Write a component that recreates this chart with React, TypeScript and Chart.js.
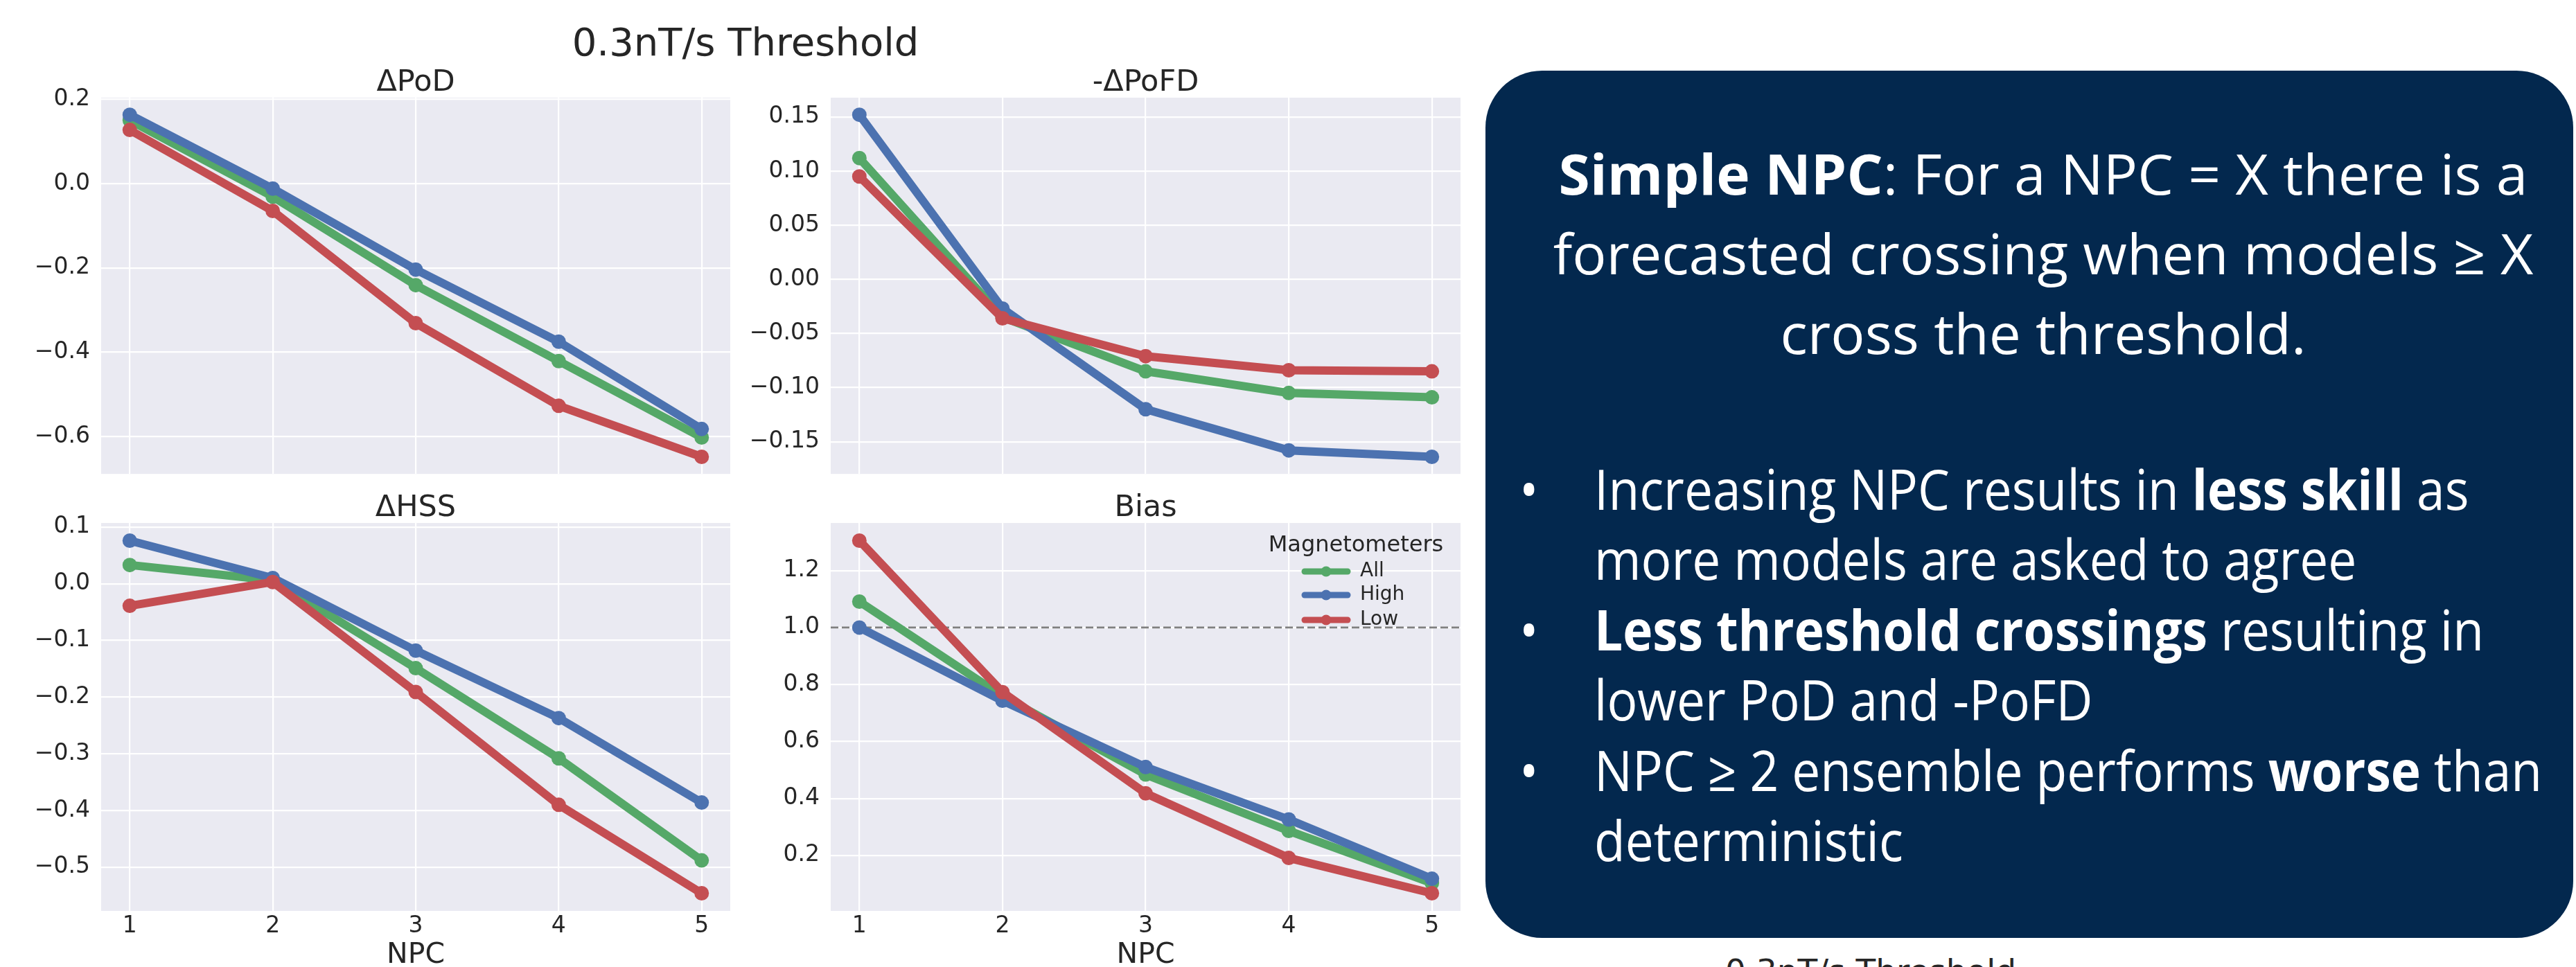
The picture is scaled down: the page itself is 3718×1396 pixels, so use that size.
import React, { useEffect, useLayoutEffect, useRef, useState } from 'react';
import { Chart, registerables } from 'chart.js';

Chart.register(...registerables);

// ---------------- data ----------------
const npc = [1, 2, 3, 4, 5];
const npcLabels = ['1', '2', '3', '4', '5'];
const seriesNames = ['All', 'High', 'Low'];
const seriesColors = ['#55A868', '#4C72B0', '#C44E52'];

const podAll = [0.150, -0.031, -0.241, -0.421, -0.602];
const podHigh = [0.163, -0.012, -0.204, -0.375, -0.582];
const podLow = [0.127, -0.065, -0.331, -0.527, -0.648];

const pofdAll = [0.112, -0.035, -0.085, -0.105, -0.109];
const pofdHigh = [0.152, -0.027, -0.120, -0.158, -0.164];
const pofdLow = [0.095, -0.036, -0.071, -0.084, -0.085];

const hssAll = [0.033, 0.006, -0.149, -0.308, -0.488];
const hssHigh = [0.076, 0.010, -0.118, -0.237, -0.386];
const hssLow = [-0.039, 0.003, -0.191, -0.390, -0.546];

const biasAll = [1.091, 0.759, 0.484, 0.286, 0.103];
const biasHigh = [1.000, 0.743, 0.510, 0.326, 0.118];
const biasLow = [1.305, 0.773, 0.418, 0.191, 0.067];

const podTicks = [-0.6, -0.4, -0.2, 0.0, 0.2];
const podTickLabels = ['\u22120.6', '\u22120.4', '\u22120.2', '0.0', '0.2'];
const pofdTicks = [-0.15, -0.10, -0.05, 0.0, 0.05, 0.10, 0.15];
const pofdTickLabels = ['\u22120.15', '\u22120.10', '\u22120.05', '0.00', '0.05', '0.10', '0.15'];
const hssTicks = [-0.5, -0.4, -0.3, -0.2, -0.1, 0.0, 0.1];
const hssTickLabels = ['\u22120.5', '\u22120.4', '\u22120.3', '\u22120.2', '\u22120.1', '0.0', '0.1'];
const biasTicks = [0.2, 0.4, 0.6, 0.8, 1.0, 1.2];
const biasTickLabels = ['0.2', '0.4', '0.6', '0.8', '1.0', '1.2'];
const biasReference = 1.0;

const figureTitle = '0.3nT/s Threshold';
const legendTitle = 'Magnetometers';
const xAxisLabel = 'NPC';

// ---------------- styles ----------------
const MPL_FONT = '"DejaVu Sans", sans-serif';
const TEXT = '#262626';
const AXES_BG = '#EAEAF2';
const SLIDE_FONT = '"Open Sans", "Noto Sans", sans-serif';

type PanelProps = {
  left: number;
  top: number;
  width: number;
  height: number;
  padTop: number;
  padRight: number;
  yAxisW: number;
  xAxisH: number;
  title: string;
  series: number[][];
  ticks: number[];
  tickLabels: string[];
  showX: boolean;
  legend?: boolean;
  refLine?: number;
};

function Panel(p: PanelProps) {
  const ref = useRef<HTMLCanvasElement | null>(null);
  useEffect(() => {
    if (!ref.current) return;
    const all = p.series.flat();
    const dMin = Math.min(...all);
    const dMax = Math.max(...all);
    const span = dMax - dMin;
    const yMin = dMin - 0.05 * span;
    const yMax = dMax + 0.05 * span;

    const deco = {
      id: 'deco',
      beforeDraw(chart: any) {
        const { ctx, chartArea: a } = chart;
        ctx.save();
        ctx.fillStyle = AXES_BG;
        ctx.fillRect(a.left, a.top, a.right - a.left, a.bottom - a.top);
        ctx.restore();
      },
      beforeDatasetsDraw(chart: any) {
        if (p.refLine === undefined) return;
        const { ctx, chartArea: a } = chart;
        const y = chart.scales.y.getPixelForValue(p.refLine);
        ctx.save();
        ctx.strokeStyle = '#808080';
        ctx.lineWidth = 2.8;
        ctx.setLineDash([11, 5]);
        ctx.beginPath();
        ctx.moveTo(a.left, y);
        ctx.lineTo(a.right, y);
        ctx.stroke();
        ctx.restore();
      },
      afterDraw(chart: any) {
        const { ctx, chartArea: a } = chart;
        ctx.save();
        ctx.fillStyle = TEXT;
        ctx.font = `43px ${MPL_FONT}`;
        ctx.textAlign = 'center';
        ctx.textBaseline = 'alphabetic';
        ctx.fillText(p.title, (a.left + a.right) / 2, a.top - 10);
        if (p.legend) {
          ctx.font = `32px ${MPL_FONT}`;
          ctx.textBaseline = 'middle';
          ctx.fillText(legendTitle, a.right - 151, a.top + 33);
          const rows = [70, 104, 140];
          seriesNames.forEach((name, i) => {
            const y = a.top + rows[i];
            ctx.strokeStyle = seriesColors[i];
            ctx.lineWidth = 9;
            ctx.lineCap = 'round';
            ctx.beginPath();
            ctx.moveTo(a.right - 225, y);
            ctx.lineTo(a.right - 163, y);
            ctx.stroke();
            ctx.fillStyle = seriesColors[i];
            ctx.beginPath();
            ctx.arc(a.right - 194, y, 7.5, 0, Math.PI * 2);
            ctx.fill();
            ctx.fillStyle = TEXT;
            ctx.font = `28px ${MPL_FONT}`;
            ctx.textAlign = 'left';
            ctx.fillText(name, a.right - 145, y);
          });
        }
        ctx.restore();
      },
    };

    const chart = new Chart(ref.current, {
      type: 'line',
      data: {
        datasets: p.series.map((vals, i) => ({
          label: seriesNames[i],
          data: npc.map((x, j) => ({ x, y: vals[j] })),
          borderColor: seriesColors[i],
          backgroundColor: seriesColors[i],
          pointBackgroundColor: seriesColors[i],
          pointBorderWidth: 0,
          pointRadius: 10.5,
          borderWidth: 12,
          borderJoinStyle: 'round',
          borderCapStyle: 'round',
          tension: 0,
          fill: false,
          order: 3 - i,
        })),
      },
      options: {
        animation: false,
        responsive: false,
        devicePixelRatio: 1,
        layout: { padding: { top: p.padTop, right: p.padRight, left: 0, bottom: 0 } },
        plugins: {
          legend: { display: false },
          title: { display: false },
          tooltip: { enabled: false },
        },
        events: [],
        scales: {
          x: {
            type: 'linear',
            min: 0.8,
            max: 5.2,
            afterBuildTicks: (s: any) => {
              s.ticks = npc.map((v) => ({ value: v }));
            },
            afterFit: (s: any) => {
              s.height = p.xAxisH;
            },
            grid: { color: '#ffffff', lineWidth: 2.2, drawTicks: false },
            border: { display: false },
            ticks: {
              display: p.showX,
              padding: 3,
              color: TEXT,
              font: { family: MPL_FONT, size: 33 },
              callback: (_v: any, i: number) => npcLabels[i],
            },
            title: {
              display: p.showX,
              text: xAxisLabel,
              color: TEXT,
              font: { family: MPL_FONT, size: 41, lineHeight: 1.2 },
              padding: 0,
            },
          },
          y: {
            type: 'linear',
            min: yMin,
            max: yMax,
            afterBuildTicks: (s: any) => {
              s.ticks = p.ticks.map((v) => ({ value: v }));
            },
            afterFit: (s: any) => {
              s.width = p.yAxisW;
            },
            grid: { color: '#ffffff', lineWidth: 2.2, drawTicks: false },
            border: { display: false },
            ticks: {
              padding: 16,
              color: TEXT,
              font: { family: MPL_FONT, size: 33 },
              callback: (_v: any, i: number) => p.tickLabels[i],
            },
          },
        },
      } as any,
      plugins: [deco],
    } as any);
    return () => chart.destroy();
  }, []);
  return (
    <canvas
      ref={ref}
      width={p.width}
      height={p.height}
      style={{ position: 'absolute', left: p.left, top: p.top, width: p.width, height: p.height }}
    />
  );
}

type Seg = string | { b: string };
const bullets: Seg[][][] = [
  [['Increasing NPC results in ', { b: 'less skill' }, ' as'], ['more models are asked to agree']],
  [[{ b: 'Less threshold crossings' }, ' resulting in'], ['lower PoD and -PoFD']],
  [['NPC \u2265 2 ensemble performs ', { b: 'worse' }, ' than'], ['deterministic']],
];

function renderSegs(segs: Seg[]) {
  return segs.map((s, i) =>
    typeof s === 'string' ? <span key={i}>{s}</span> : <b key={i} style={{ fontWeight: 700 }}>{s.b}</b>
  );
}

export default function App() {
  const line1Ref = useRef<HTMLSpanElement | null>(null);
  const bulletRef = useRef<HTMLSpanElement | null>(null);
  const [sx, setSx] = useState(0.85);
  const [bx, setBx] = useState(0.85);
  useLayoutEffect(() => {
    document.body.style.margin = '0';
    if (line1Ref.current) {
      const w = line1Ref.current.offsetWidth;
      if (w > 0) setSx(1399 / w);
    }
    if (bulletRef.current) {
      const w = bulletRef.current.offsetWidth;
      if (w > 0) setBx(1368 / w);
    }
  }, []);

  const leftX = 0;
  const rightX = 1053;
  const topY = 41;
  const botY = 655;

  return (
    <div
      style={{
        position: 'fixed',
        left: 0,
        top: 0,
        width: 3718,
        height: 1396,
        overflow: 'hidden',
        background: '#ffffff',
      }}
    >
      <div
        style={{
          position: 'absolute',
          left: 1076 - 600,
          width: 1200,
          top: 32.6,
          textAlign: 'center',
          fontFamily: MPL_FONT,
          fontSize: 56,
          lineHeight: '56px',
          color: TEXT,
          whiteSpace: 'nowrap',
        }}
      >
        {figureTitle}
      </div>

      <Panel left={leftX} top={topY} width={1074} height={679} padTop={100} padRight={20} yAxisW={146} xAxisH={20}
        title={'\u0394PoD'} series={[podAll, podHigh, podLow]} ticks={podTicks} tickLabels={podTickLabels} showX={false} />
      <Panel left={rightX} top={topY} width={1075} height={679} padTop={100} padRight={20} yAxisW={146} xAxisH={20}
        title={'-\u0394PoFD'} series={[pofdAll, pofdHigh, pofdLow]} ticks={pofdTicks} tickLabels={pofdTickLabels} showX={false} />
      <Panel left={leftX} top={botY} width={1074} height={749} padTop={100} padRight={20} yAxisW={146} xAxisH={89}
        title={'\u0394HSS'} series={[hssAll, hssHigh, hssLow]} ticks={hssTicks} tickLabels={hssTickLabels} showX={true} />
      <Panel left={rightX} top={botY} width={1075} height={749} padTop={100} padRight={20} yAxisW={146} xAxisH={89}
        title={'Bias'} series={[biasAll, biasHigh, biasLow]} ticks={biasTicks} tickLabels={biasTickLabels} showX={true}
        legend={true} refLine={biasReference} />

      <div
        style={{
          position: 'absolute',
          left: 2144,
          top: 102,
          width: 1570,
          height: 1252,
          background: '#03284e',
          borderRadius: 82,
        }}
      />
      <div
        style={{
          position: 'absolute',
          left: 2949 - 1000,
          width: 2000,
          top: 191.5,
          textAlign: 'center',
          fontFamily: SLIDE_FONT,
          fontSize: 80,
          lineHeight: '115px',
          color: '#ffffff',
          whiteSpace: 'nowrap',
          transform: `scaleX(${sx})`,
          transformOrigin: '50% 0',
        }}
      >
        <div>
          <span ref={line1Ref}>
            <b style={{ fontWeight: 700 }}>Simple NPC</b>: For a NPC = X there is a
          </span>
        </div>
        <div>forecasted crossing when models {'\u2265'} X</div>
        <div>cross the threshold.</div>
      </div>
      <div
        style={{
          position: 'absolute',
          left: 2193,
          top: 653.5,
          fontFamily: SLIDE_FONT,
          fontSize: 80,
          lineHeight: '101.6px',
          color: '#ffffff',
          whiteSpace: 'nowrap',
          transform: `scaleX(${bx})`,
          transformOrigin: '0 0',
        }}
      >
        {bullets.map((b, i) => (
          <div key={i} style={{ position: 'relative', paddingLeft: (2301 - 2193) / bx }}>
            <span style={{ position: 'absolute', left: 0, top: 0 }}>{'\u2022'}</span>
            {b.map((line, j) => (
              <div key={j}>
                {i === 2 && j === 0 ? (
                  <span ref={bulletRef}>{renderSegs(line)}</span>
                ) : (
                  renderSegs(line)
                )}
              </div>
            ))}
          </div>
        ))}
      </div>

      <div
        style={{
          position: 'absolute',
          left: 2490,
          top: 1379,
          fontFamily: MPL_FONT,
          fontSize: 47,
          lineHeight: '46px',
          color: TEXT,
          whiteSpace: 'nowrap',
        }}
      >
        {figureTitle}
      </div>
    </div>
  );
}
